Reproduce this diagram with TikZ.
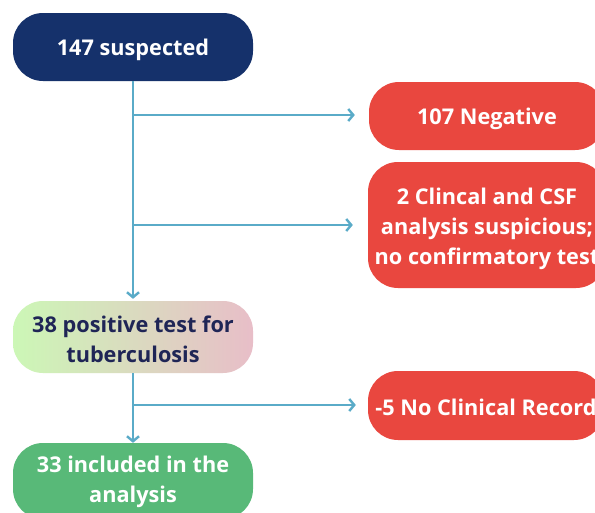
\documentclass[tikz,border=0pt]{standalone}
\usepackage{fontspec}
\setmainfont{Open Sans}
\usetikzlibrary{arrows.meta}
\definecolor{navy}{HTML}{15316B}
\definecolor{redbox}{HTML}{E9473F}
\definecolor{greenbox}{HTML}{58B978}
\definecolor{linec}{HTML}{5AABC8}
\definecolor{darktxt}{HTML}{1F2556}
\definecolor{gleft}{HTML}{CCF7B6}
\definecolor{gright}{HTML}{E8BEC8}
\tikzset{
  box/.style={rounded corners=30pt, inner sep=0pt},
  txt/.style={inner sep=0pt, align=center, font=\bfseries\fontsize{21.7}{30}\selectfont, text=white},
  conn/.style={draw=linec, line width=2.4pt, -{Straight Barb[length=5pt,width=12pt,line width=2.4pt]}}
}
\begin{document}
\begin{tikzpicture}[x=1pt,y=-1pt]
\clip (0,0) rectangle (595,512);
\useasboundingbox (0,0) rectangle (595,512);
\fill[white] (0,0) rectangle (595,512);
\node[box, fill=navy, minimum width=240pt, minimum height=68pt] (susp) at (133,47) {};
\node[txt] (susptxt) at ([yshift=-3pt]susp.center) {147 suspected};
\node[box, fill=redbox, minimum width=236pt, minimum height=68pt] (neg) at (487,116) {};
\node[txt] (negtxt) at ([yshift=-3pt]neg.center) {107 Negative};
\node[box, fill=redbox, minimum width=238pt, minimum height=126pt] (clin) at (487,225) {};
\node[txt] (clintxt) at ([yshift=-4pt]clin.center) {2 Clincal and CSF\\analysis suspicious;\\no confirmatory test};
\node[box, left color=gleft, right color=gright, minimum width=240pt, minimum height=72pt] (pos) at (133,337) {};
\node[txt, text=darktxt] (postxt) at ([yshift=-2pt]pos.center) {38 positive test for\\tuberculosis};
\node[box, fill=redbox, minimum width=236pt, minimum height=69pt] (norec) at (486,405.5) {};
\node[txt] (norectxt) at ([yshift=-2pt]norec.center) {-5 No Clinical Record};
\node[box, fill=greenbox, minimum width=240pt, minimum height=76pt] (incl) at (133,481) {};
\node[txt] (incltxt) at ([yshift=-1pt]incl.center) {33 included in the\\analysis};
\coordinate (b1) at (133,115);
\coordinate (b2) at (133,225);
\coordinate (b3) at (133,405);
\draw[conn, shorten >=2pt] (susp.south) -- (pos.north);
\draw[conn, shorten >=14pt] (b1) -- (neg.west |- b1);
\draw[conn, shorten >=15pt] (b2) -- (clin.west |- b2);
\draw[conn, shorten >=0pt] (pos.south) -- (incl.north);
\draw[conn, shorten >=12pt] (b3) -- (norec.west |- b3);
\end{tikzpicture}
\end{document}
